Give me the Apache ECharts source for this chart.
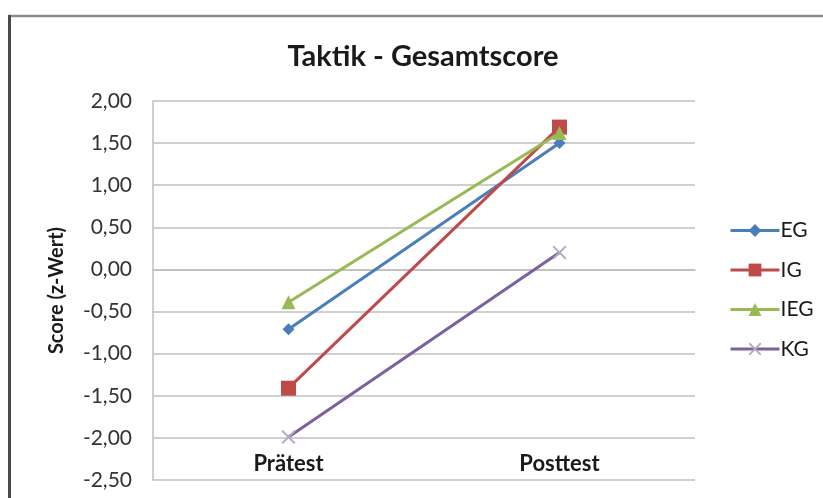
<!DOCTYPE html>
<html>
<head>
<meta charset="utf-8">
<script src="https://cdn.jsdelivr.net/npm/echarts@6/dist/echarts.min.js"></script>
<style>
  html, body { margin: 0; padding: 0; background: #fff; }
  #chart { width: 823px; height: 498px; }
</style>
</head>
<body>
<div id="chart"></div>
<script>
// Test phases on the category axis
const categories = ['Prätest', 'Posttest'];

// Group means (z-scores)
const EG  = [-0.71, 1.50];
const IG  = [-1.41, 1.69];
const IEG = [-0.39, 1.62];
const KG  = [-1.99, 0.20];

// Value axis range
const yMin = -2.5;
const yMax = 2.0;
const yStep = 0.5;

const FONT = 'Lato, "Open Sans", sans-serif';
const crossPath = 'path://M0,1L1,0L5,4L9,0L10,1L6,5L10,9L9,10L5,6L1,10L0,9L4,5Z';

function lineSeries(name, data, color, symbol, size, markColor) {
  return {
    name: name,
    type: 'line',
    data: data,
    symbol: symbol,
    symbolSize: size,
    lineStyle: { color: color, width: 3 },
    itemStyle: { color: markColor || color },
    emphasis: { disabled: true },
    z: 3
  };
}

const chart = echarts.init(document.getElementById('chart'), null, { renderer: 'canvas' });

chart.setOption({
  animation: false,
  backgroundColor: '#ffffff',
  title: {
    text: 'Taktik - Gesamtscore',
    left: 418,
    top: 37,
    textAlign: 'center',
    textStyle: { fontFamily: FONT, fontWeight: 'bold', fontSize: 29, color: '#1a1a1a' }
  },
  legend: {
    orient: 'vertical',
    left: 724,
    top: 215,
    itemWidth: 49,
    itemHeight: 16,
    itemGap: 18.5,
    lineStyle: { width: 3 },
    textStyle: { fontFamily: FONT, fontSize: 21, color: '#1a1a1a', padding: [0, 0, 0, -4] },
    data: ['EG', 'IG', 'IEG', 'KG']
  },
  grid: { left: 153, right: 128, top: 101, bottom: 18, containLabel: false },
  xAxis: {
    type: 'category',
    data: categories,
    boundaryGap: true,
    axisLine: { show: true, lineStyle: { color: '#bfbfbf', width: 1.5 } },
    axisTick: { show: false },
    axisLabel: {
      inside: true,
      margin: 5,
      fontFamily: FONT,
      fontWeight: 'bold',
      fontSize: 22,
      color: '#1a1a1a'
    }
  },
  yAxis: {
    type: 'value',
    min: yMin,
    max: yMax,
    interval: yStep,
    name: 'Score (z-Wert)',
    nameLocation: 'middle',
    nameRotate: 90,
    nameGap: 86,
    nameTextStyle: { fontFamily: FONT, fontWeight: 'bold', fontSize: 20, color: '#1a1a1a' },
    axisLine: { show: true, lineStyle: { color: '#bfbfbf', width: 1.5 } },
    axisTick: { show: false },
    splitLine: { show: true, lineStyle: { color: '#bfbfbf', width: 1.5 } },
    axisLabel: {
      margin: 21,
      fontFamily: FONT,
      fontSize: 21,
      color: '#333333',
      formatter: v => v.toFixed(2).replace('.', ',')
    }
  },
  series: [
    lineSeries('EG', EG, '#4a7ebb', 'diamond', 12),
    lineSeries('IG', IG, '#be4b48', 'rect', 15),
    lineSeries('IEG', IEG, '#98b954', 'triangle', 14),
    lineSeries('KG', KG, '#7d60a0', crossPath, 14, '#b4aac6')
  ],
  graphic: [
    { type: 'line', shape: { x1: 9, y1: 16, x2: 823, y2: 16 }, style: { stroke: '#8c8c8c', lineWidth: 2.5 }, silent: true },
    { type: 'line', shape: { x1: 9.5, y1: 15, x2: 9.5, y2: 498 }, style: { stroke: '#4a4a4a', lineWidth: 3 }, silent: true }
  ]
});
</script>
</body>
</html>
